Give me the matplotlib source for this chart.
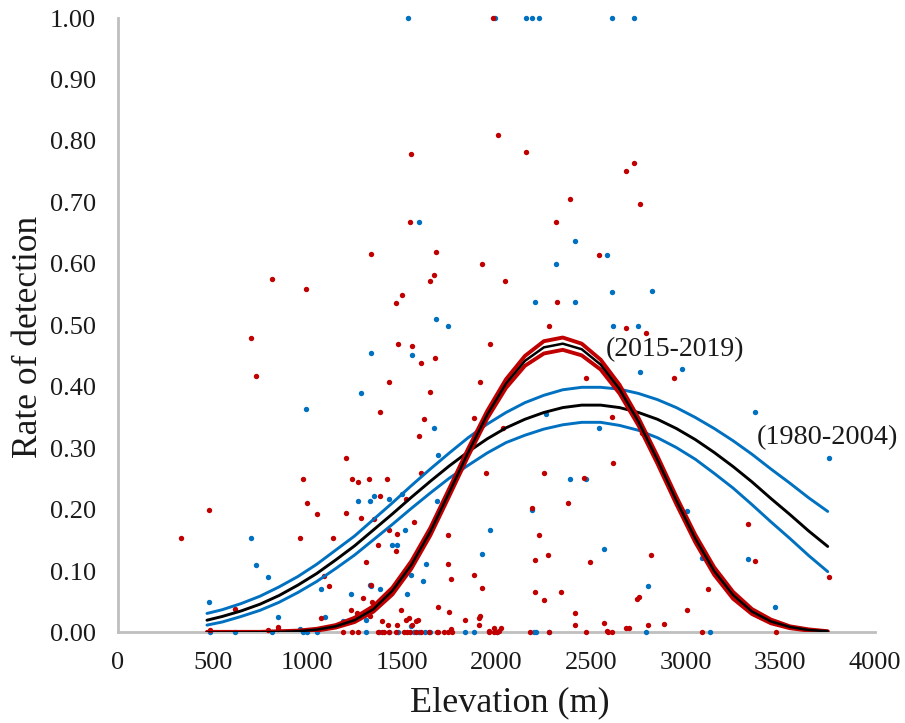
import matplotlib
matplotlib.use("Agg")
import matplotlib.pyplot as plt

plt.rcParams['font.family'] = ['Liberation Serif', 'DejaVu Serif']
plt.rcParams['lines.solid_joinstyle'] = 'round'
plt.rcParams['lines.solid_capstyle'] = 'round'

# scatter data: 1980-2004 survey (blue)
old_x = [1534, 1990, 2155, 2185, 2225, 2610, 2725,
         1588, 2413, 2582, 2313, 2610, 2820, 2204, 2413, 1678, 1745, 2616, 2746,
         1335, 1555, 1284, 994, 2760, 2982, 3367, 2260, 1671, 2542, 1690, 3759, 2387, 2475,
         1270, 1331, 1353, 1434, 1500, 1683, 2185, 3006,
         704, 1514, 1968, 1446, 1472, 2570, 1921, 3085, 3331,
         730, 792, 1629, 1548, 1609, 1331, 1339, 1075, 1386, 1230, 1529, 2800,
         480, 3472, 844, 1094, 1191, 1310, 1550, 960,
         487, 616, 811, 980, 1001, 1054, 1310, 1379, 1432, 1481, 1562, 1590, 1624,
         1650, 1831, 1880, 2002, 2197, 2206, 2279, 2791, 3126]
old_y = [1.00, 1.00, 1.00, 1.00, 1.00, 1.00, 1.00,
         0.668, 0.637, 0.614, 0.599, 0.554, 0.555, 0.538, 0.538, 0.510, 0.499, 0.499, 0.499,
         0.455, 0.451, 0.389, 0.364, 0.424, 0.428, 0.358, 0.355, 0.332, 0.332, 0.289, 0.284, 0.249, 0.249,
         0.214, 0.214, 0.222, 0.218, 0.226, 0.214, 0.199, 0.198,
         0.153, 0.166, 0.166, 0.142, 0.142, 0.136, 0.128, 0.122, 0.120,
         0.110, 0.091, 0.111, 0.093, 0.083, 0.078, 0.075, 0.070, 0.070, 0.062, 0.062, 0.076,
         0.049, 0.041, 0.026, 0.026, 0.018, 0.020, 0.011, 0.005,
         0, 0, 0, 0, 0, 0, 0, 0, 0, 0, 0, 0, 0,
         0, 0, 0, 0, 0, 0, 0, 0, 0]

# scatter data: 2015-2019 survey (red)
new_x = [1983, 811, 994, 1335, 2007, 1548, 2155, 2387, 1541, 2313, 1678, 1921, 2542, 1669, 1650,
         2047, 1500, 1467, 2320, 2279, 2725, 2684, 2760, 2684, 2791,
         704, 730, 1481, 1555, 1603, 1677, 1965, 1434, 1648, 1386, 1912, 1617, 1879, 1588, 2035,
         2475, 2936, 2610, 2770, 2616,
         1203, 980, 1237, 1270, 1326, 1419, 1603, 1947, 2252, 2461,
         1001, 480, 1054, 1203, 1284, 1386, 1521, 2185, 2380, 1562, 1353, 3331,
         331, 960, 1135, 1434, 1472, 1650, 1745, 2225, 1372, 1467, 2273, 2818, 2204, 2494, 3367, 1310, 1745,
         1089, 1115, 1757, 1879, 3759, 1335, 1921, 3120, 1297, 1432, 2204, 2339, 2252, 2742, 2751, 1344,
         616, 1230, 1263, 1493, 1690, 1750, 3006, 2413, 1331, 1075, 1907, 1912, 1521, 1535, 1583, 1831,
         1393, 1573, 2570, 2887, 2413, 1426, 1474, 1555, 1907, 2800, 844, 2684, 2698, 1988, 2023, 846,
         1762, 487, 792, 1961, 2583, 2012, 2591,
         1191, 1237, 1270, 1372, 1393, 1405, 1434, 1467, 1510, 1525, 1543, 1576, 1603, 1643,
         1683, 1690, 1722, 1745, 1766, 1959, 1986, 2004, 2178, 2278, 2475, 2610, 3085, 3476]
new_y = [1.00, 0.576, 0.559, 0.616, 0.810, 0.778, 0.782, 0.705, 0.668, 0.668, 0.620, 0.599, 0.614, 0.582, 0.572,
         0.572, 0.549, 0.537, 0.538, 0.499, 0.764, 0.751, 0.697, 0.495, 0.487,
         0.480, 0.418, 0.470, 0.466, 0.439, 0.447, 0.470, 0.408, 0.391, 0.358, 0.408, 0.347, 0.349, 0.320, 0.332,
         0.414, 0.414, 0.351, 0.325, 0.276,
         0.284, 0.249, 0.249, 0.245, 0.249, 0.249, 0.260, 0.260, 0.260, 0.251,
         0.210, 0.199, 0.193, 0.195, 0.187, 0.222, 0.218, 0.203, 0.210, 0.179, 0.184, 0.177,
         0.153, 0.153, 0.153, 0.166, 0.161, 0.166, 0.158, 0.158, 0.143, 0.133, 0.126, 0.126, 0.118, 0.114, 0.116, 0.114, 0.111,
         0.092, 0.076, 0.087, 0.093, 0.091, 0.078, 0.072, 0.070, 0.056, 0.064, 0.066, 0.066, 0.053, 0.054, 0.057, 0.049,
         0.039, 0.037, 0.032, 0.037, 0.041, 0.034, 0.037, 0.031, 0.027, 0.024, 0.024, 0.027, 0.020, 0.024, 0.020, 0.020,
         0.018, 0.018, 0.016, 0.014, 0.012, 0.012, 0.012, 0.012, 0.012, 0.012, 0.009, 0.007, 0.007, 0.007, 0.007, 0.006,
         0.005, 0.004, 0.004, 0.003, 0.003, 0.003, 0.001,
         0, 0, 0, 0, 0, 0, 0, 0, 0, 0, 0, 0, 0, 0,
         0, 0, 0, 0, 0, 0, 0, 0, 0, 0, 0, 0, 0, 0]

# elevations at which the fitted curves were read
fit_x = [470, 550, 650, 750, 850, 950, 1050, 1150, 1250, 1350, 1450, 1550, 1650, 1750, 1850, 1950, 2050,
         2150, 2250, 2350, 2450, 2550, 2650, 2750, 2850, 2950, 3050, 3150, 3250, 3350, 3450, 3550, 3650, 3750]

# fitted curve for 1980-2004 with its band
old_fit = [0.020, 0.026, 0.035, 0.046, 0.060, 0.077, 0.096, 0.118, 0.141, 0.167, 0.193, 0.220, 0.246, 0.271,
           0.294, 0.315, 0.333, 0.347, 0.358, 0.366, 0.370, 0.370, 0.366, 0.358, 0.347, 0.332, 0.314, 0.293,
           0.270, 0.245, 0.218, 0.192, 0.165, 0.140]
old_upper = [0.031, 0.037, 0.047, 0.059, 0.074, 0.091, 0.111, 0.134, 0.157, 0.184, 0.211, 0.239, 0.266, 0.292,
             0.317, 0.339, 0.358, 0.374, 0.386, 0.395, 0.399, 0.399, 0.396, 0.389, 0.379, 0.366, 0.350, 0.332,
             0.312, 0.290, 0.266, 0.243, 0.219, 0.197]
old_lower = [0.012, 0.017, 0.026, 0.036, 0.049, 0.065, 0.083, 0.104, 0.126, 0.151, 0.176, 0.202, 0.227, 0.251,
             0.272, 0.292, 0.309, 0.321, 0.331, 0.338, 0.342, 0.342, 0.337, 0.329, 0.317, 0.301, 0.282, 0.259,
             0.235, 0.208, 0.180, 0.153, 0.125, 0.099]

# fitted curve for 2015-2019 with its band
new_fit = [0.0000, 0.0000, 0.0001, 0.0003, 0.0008, 0.0020, 0.0046, 0.010, 0.020, 0.038, 0.068, 0.110, 0.164,
           0.228, 0.293, 0.354, 0.405, 0.442, 0.464, 0.470, 0.461, 0.436, 0.396, 0.343, 0.281, 0.215, 0.153,
           0.100, 0.061, 0.034, 0.018, 0.009, 0.004, 0.002]
new_upper = [0.001, 0.001, 0.001, 0.001, 0.002, 0.003, 0.006, 0.012, 0.024, 0.043, 0.073, 0.116, 0.170,
             0.234, 0.299, 0.360, 0.412, 0.450, 0.474, 0.480, 0.470, 0.444, 0.403, 0.349, 0.287, 0.221, 0.159,
             0.106, 0.066, 0.038, 0.021, 0.010, 0.005, 0.002]
new_lower = [0.000, 0.000, 0.000, 0.000, 0.000, 0.001, 0.003, 0.008, 0.017, 0.034, 0.062, 0.104, 0.158,
             0.222, 0.287, 0.348, 0.398, 0.434, 0.454, 0.460, 0.451, 0.428, 0.389, 0.337, 0.275, 0.209, 0.147,
             0.094, 0.055, 0.030, 0.015, 0.007, 0.003, 0.001]

x_ticks = [0, 500, 1000, 1500, 2000, 2500, 3000, 3500, 4000]
y_ticks = [0.0, 0.1, 0.2, 0.3, 0.4, 0.5, 0.6, 0.7, 0.8, 0.9, 1.0]

blue = '#0070C0'
red = '#C00000'
grey = '#BFBFBF'
text_col = '#1a1a1a'

fig = plt.figure(figsize=(9.05, 7.23), dpi=100)
ax = fig.add_axes([0.1304, 0.1252, 0.8365, 0.8499])

ax.scatter(old_x, old_y, s=15, color=blue, linewidths=0, zorder=2, clip_on=False)
ax.scatter(new_x, new_y, s=15, color=red, linewidths=0, zorder=2, clip_on=False)

ax.plot(fit_x, old_upper, color=blue, lw=2.1, zorder=3)
ax.plot(fit_x, old_lower, color=blue, lw=2.1, zorder=3)
ax.plot(fit_x, old_fit, color='black', lw=2.1, zorder=4)
ax.plot(fit_x, new_upper, color=red, lw=2.8, zorder=5)
ax.plot(fit_x, new_lower, color=red, lw=2.8, zorder=5)
ax.plot(fit_x, new_fit, color='black', lw=1.8, zorder=6)

ax.text(2575, 0.46, '(2015-2019)', fontsize=20, color=text_col, va='center', ha='left')
ax.text(3377, 0.317, '(1980-2004)', fontsize=20.3, color=text_col, va='center', ha='left')

ax.set_xlim(0, 4000)
ax.set_ylim(0, 1.0)
ax.set_xticks(x_ticks)
ax.set_yticks(y_ticks)
ax.set_yticklabels(['%.2f' % v for v in y_ticks])
ax.tick_params(length=0, labelsize=19, colors=text_col)
ax.tick_params(axis='y', pad=16)
ax.tick_params(axis='x', pad=14)

for side in ['top', 'right']:
    ax.spines[side].set_visible(False)
for side in ['left', 'bottom']:
    ax.spines[side].set_color(grey)
    ax.spines[side].set_linewidth(2.0)
    ax.spines[side].set_zorder(1)

ax.set_xlabel('Elevation (m)', fontsize=26, color=text_col)
ax.set_ylabel('Rate of detection', fontsize=25.5, color=text_col)
ax.xaxis.set_label_coords(0.518, -0.087)
ax.yaxis.set_label_coords(-0.0964, 0.481)

fig.savefig('out.png', dpi=100)
